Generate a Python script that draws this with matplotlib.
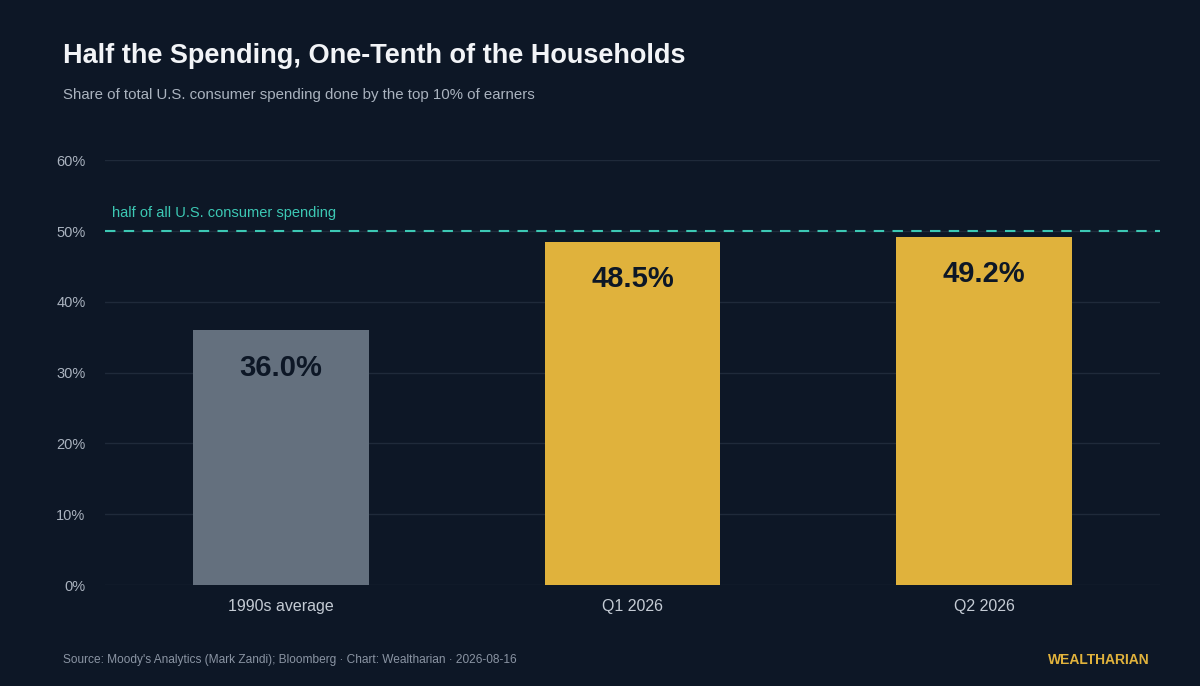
import matplotlib.pyplot as plt

plt.rcParams['font.family'] = ['Liberation Sans', 'DejaVu Sans']

categories = ['1990s average', 'Q1 2026', 'Q2 2026']
shares = [36.0, 48.5, 49.2]
bar_colors = ['#64707e', '#e0b23c', '#e0b23c']
yticks = [0, 10, 20, 30, 40, 50, 60]
half_line = 50

bg = '#0d1726'
fig = plt.figure(figsize=(12, 6.86), dpi=100, facecolor=bg)
ax = fig.add_axes([0.0875, 0.147, 0.879, 0.6195], facecolor=bg)

x = range(len(categories))
ax.bar(x, shares, width=0.5, color=bar_colors, zorder=3)
for i, v in enumerate(shares):
    ax.annotate(f'{v:.1f}%', (i, v), xytext=(0, -27), textcoords='offset points',
                ha='center', va='center', fontsize=21, fontweight='bold', color=bg, zorder=4)

ax.axhline(half_line, color='#3cc8b4', linestyle=(0, (5, 4)), linewidth=1.5, zorder=4)
ax.text(-0.48, half_line + 1.5, 'half of all U.S. consumer spending', color='#3cc8b4',
        fontsize=10.5, va='bottom')

ax.set_xlim(-0.5, 2.5)
ax.set_ylim(0, 60)
ax.set_yticks(yticks)
ax.set_yticklabels([f'{t}%' for t in yticks])
ax.set_xticks(list(x))
ax.set_xticklabels(categories)
ax.grid(axis='y', color='#1f2a3a', linewidth=1, zorder=0)
ax.tick_params(axis='y', length=0, colors='#aab3bf', labelsize=10.5, pad=14)
ax.tick_params(axis='x', length=0, colors='#c4cbd4', labelsize=11.5, pad=10)
for s in ax.spines.values():
    s.set_visible(False)

fig.text(0.0525, 0.918, 'Half the Spending, One-Tenth of the Households', color='#f2f4f7',
         fontsize=19.5, fontweight='bold', va='center')
fig.text(0.0525, 0.862, 'Share of total U.S. consumer spending done by the top 10% of earners',
         color='#aab3bf', fontsize=10.8, va='center')
fig.text(0.0525, 0.038, "Source: Moody's Analytics (Mark Zandi); Bloomberg · Chart: Wealtharian · 2026-08-16",
         color='#8a94a3', fontsize=8.6, va='center')
fig.text(0.958, 0.038, 'WEALTHARIAN', color='#e0b23c', fontsize=10, fontweight='bold',
         va='center', ha='right')

fig.savefig('out.png', facecolor=bg)
